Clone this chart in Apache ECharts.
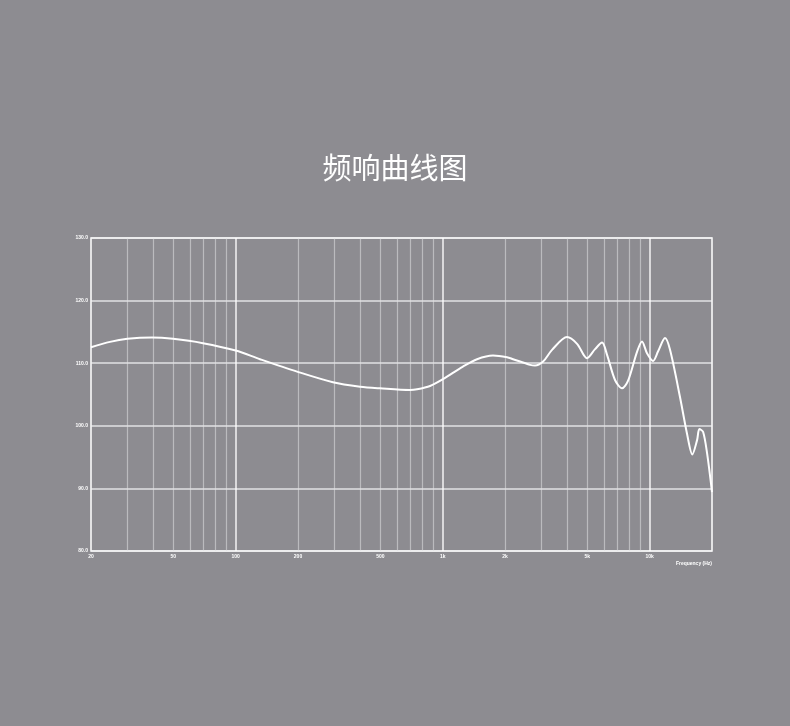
<!DOCTYPE html>
<html>
<head>
<meta charset="utf-8">
<script src="https://cdn.jsdelivr.net/npm/echarts@6/dist/echarts.min.js"></script>
<style>
html,body{margin:0;padding:0;background:#8d8c91;}
#c{width:790px;height:726px;}
</style>
</head>
<body>
<div id="c"></div>
<script>
const TITLE = '频响曲线图';
const FREQ = [20, 24.7, 30, 39.4, 49.8, 69.5, 100, 131, 198, 295, 399, 498, 695, 752, 869, 1003, 1253, 1465, 1750, 2046, 2188, 2643, 2793, 3055, 3375, 3990, 4458, 4980, 5446, 5888, 6224, 6800, 7350, 7855, 8686, 9180, 9705, 10380, 10970, 11860, 12540, 14000, 15140, 16070, 16940, 17380, 18110, 18940, 20000];
const SPL  = [112.56, 113.41, 113.89, 114.10, 113.89, 113.20, 112.02, 110.64, 108.65, 106.96, 106.25, 105.99, 105.72, 105.83, 106.36, 107.44, 109.46, 110.64, 111.22, 110.96, 110.64, 109.73, 109.62, 110.26, 112.13, 114.17, 113.09, 110.80, 112.24, 113.30, 111.33, 107.32, 105.99, 107.16, 111.81, 113.46, 111.60, 110.37, 111.86, 114.01, 112.13, 104.65, 98.78, 95.42, 97.71, 99.47, 99.04, 95.58, 89.4];
const X_LABEL_VALUES = [20, 50, 100, 200, 500, 1000, 2000, 5000, 10000];
const X_LABEL_TEXT = ['20', '50', '100', '200', '500', '1k', '2k', '5k', '10k'];
const MINOR_GRID = [30, 40, 50, 60, 70, 80, 90, 200, 300, 400, 500, 600, 700, 800, 900, 2000, 3000, 4000, 5000, 6000, 7000, 8000, 9000];
const MAJOR_GRID = [100, 1000, 10000];
const Y_MIN = 80, Y_MAX = 130, Y_STEP = 10;
const X_NAME = 'Frequency (Hz)';

const chart = echarts.init(document.getElementById('c'), null, {renderer: 'canvas'});
const labelFont = {color: '#ffffff', fontSize: 5, fontWeight: 'bold', fontFamily: 'Liberation Sans'};

const gridLines = MINOR_GRID.map(f => ({xAxis: f, lineStyle: {color: 'rgba(225,225,228,0.55)', width: 1.2, type: 'solid'}}))
  .concat(MAJOR_GRID.map(f => ({xAxis: f, lineStyle: {color: 'rgba(255,255,255,0.9)', width: 1.5, type: 'solid'}})));

chart.setOption({
  backgroundColor: '#8d8c91',
  animation: false,
  title: {
    text: TITLE,
    left: 'center',
    top: 148,
    textStyle: {color: '#ffffff', fontSize: 29, fontWeight: 'normal', fontFamily: 'Noto Sans CJK SC'}
  },
  grid: {
    left: 91, right: 78, top: 238, bottom: 175,
    show: true, borderColor: '#ffffff', borderWidth: 1.5, backgroundColor: 'transparent'
  },
  xAxis: {
    type: 'log', logBase: 10, min: 20, max: 20000,
    axisLine: {show: false}, axisTick: {show: false}, splitLine: {show: false}, minorSplitLine: {show: false},
    axisLabel: Object.assign({
      margin: 3,
      customValues: X_LABEL_VALUES,
      formatter: v => {
        const i = X_LABEL_VALUES.findIndex(x => Math.abs(x - v) < 1e-6 * x);
        return i >= 0 ? X_LABEL_TEXT[i] : '';
      }
    }, labelFont)
  },
  yAxis: {
    type: 'value', min: Y_MIN, max: Y_MAX, interval: Y_STEP,
    axisLine: {show: false}, axisTick: {show: false},
    splitLine: {show: true, lineStyle: {color: 'rgba(240,240,242,0.85)', width: 1.5}},
    axisLabel: Object.assign({margin: 3, formatter: v => v.toFixed(1)}, labelFont)
  },
  graphic: [{
    type: 'text', right: 78, top: 561,
    style: {text: X_NAME, fill: '#ffffff', font: 'bold 5px "Liberation Sans"'}
  }],
  series: [
    {
      type: 'line', data: [], z: 1, silent: true,
      markLine: {silent: true, symbol: ['none', 'none'], label: {show: false}, data: gridLines, animation: false}
    },
    {
      type: 'line', z: 5,
      data: FREQ.map((f, i) => [f, SPL[i]]),
      showSymbol: false, smooth: 0.3,
      lineStyle: {color: '#ffffff', width: 2},
      clip: true
    }
  ]
});
</script>
</body>
</html>
